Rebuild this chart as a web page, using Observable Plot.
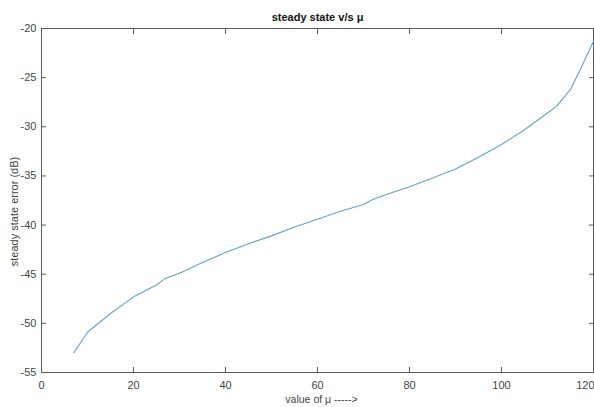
<!DOCTYPE html>
<html>
<head>
<meta charset="utf-8">
<script src="https://cdn.jsdelivr.net/npm/d3@7"></script>
<script src="https://cdn.jsdelivr.net/npm/@observablehq/plot@0.6"></script>
<style>
  html, body { margin: 0; padding: 0; background: #fff; }
  svg { display: block; }
</style>
</head>
<body>
<div id="chart"></div>
<script>
const mu = [7, 10, 15, 20, 25, 27, 30, 35, 40, 45, 50, 55, 60, 65, 70, 72, 75, 80, 85, 90, 95, 100, 105, 110, 112, 115, 117, 120];
const errDb = [-53.0, -50.9, -49.0, -47.3, -46.1, -45.4, -44.9, -43.8, -42.8, -41.9, -41.1, -40.2, -39.4, -38.6, -37.9, -37.4, -36.9, -36.1, -35.2, -34.3, -33.1, -31.8, -30.3, -28.6, -27.9, -26.2, -24.3, -21.3];
const xTicks = [0, 20, 40, 60, 80, 100, 120];
const yTicks = [-55, -50, -45, -40, -35, -30, -25, -20];
const titleText = "steady state v/s μ";
const xLabel = "value of μ ----->";
const yLabel = "steady state error (dB)";

const data = mu.map((m, i) => ({mu: m, err: errDb[i]}));
const font = "'Liberation Sans Narrow', 'Arial Narrow', 'Liberation Sans', Arial, sans-serif";
const axisColor = "#5a5a5a";
const labelColor = "#444";
const lastX = xTicks[xTicks.length - 1];

const chart = Plot.plot({
  width: 594,
  height: 407,
  marginTop: 28,
  marginBottom: 35,
  marginLeft: 41,
  marginRight: 1,
  style: {fontFamily: font, fontSize: "11px", color: labelColor, background: "#fff"},
  x: {domain: [0, 120]},
  y: {domain: [-55, -20]},
  marks: [
    Plot.frame({stroke: axisColor, strokeWidth: 1}),
    Plot.axisX(xTicks, {anchor: "bottom", tickSize: -5, tickPadding: 14, stroke: axisColor, label: null, fill: labelColor,
      tickFormat: d => d === lastX ? "" : String(d)}),
    Plot.text([lastX], {x: d => d, y: () => -55, text: d => String(d), textAnchor: "end", dy: 13, dx: 1, fill: labelColor, fontSize: 11}),
    Plot.axisX(xTicks, {anchor: "top", tickSize: -5, tickFormat: () => "", stroke: axisColor, label: null}),
    Plot.axisY(yTicks, {anchor: "left", tickSize: -5, tickPadding: 10, stroke: axisColor, label: null, fill: labelColor,
      tickFormat: d => String(d)}),
    Plot.axisY(yTicks, {anchor: "right", tickSize: -5, tickFormat: () => "", stroke: axisColor, label: null}),
    Plot.line(data, {x: "mu", y: "err", stroke: "#5fa3cf", strokeWidth: 1.1}),
    Plot.text([titleText], {frameAnchor: "top", dy: -15, text: d => d, fontWeight: "bold", fontSize: 11, fill: "#111"}),
    Plot.text([xLabel], {frameAnchor: "bottom", dy: 30, dx: 4, text: d => d, fontSize: 10.5, fill: labelColor}),
    Plot.text([yLabel], {frameAnchor: "left", textAnchor: "middle", dx: -27, dy: 11, rotate: -90, text: d => d, fontSize: 11, fill: labelColor})
  ]
});
document.getElementById("chart").append(chart);
</script>
</body>
</html>
